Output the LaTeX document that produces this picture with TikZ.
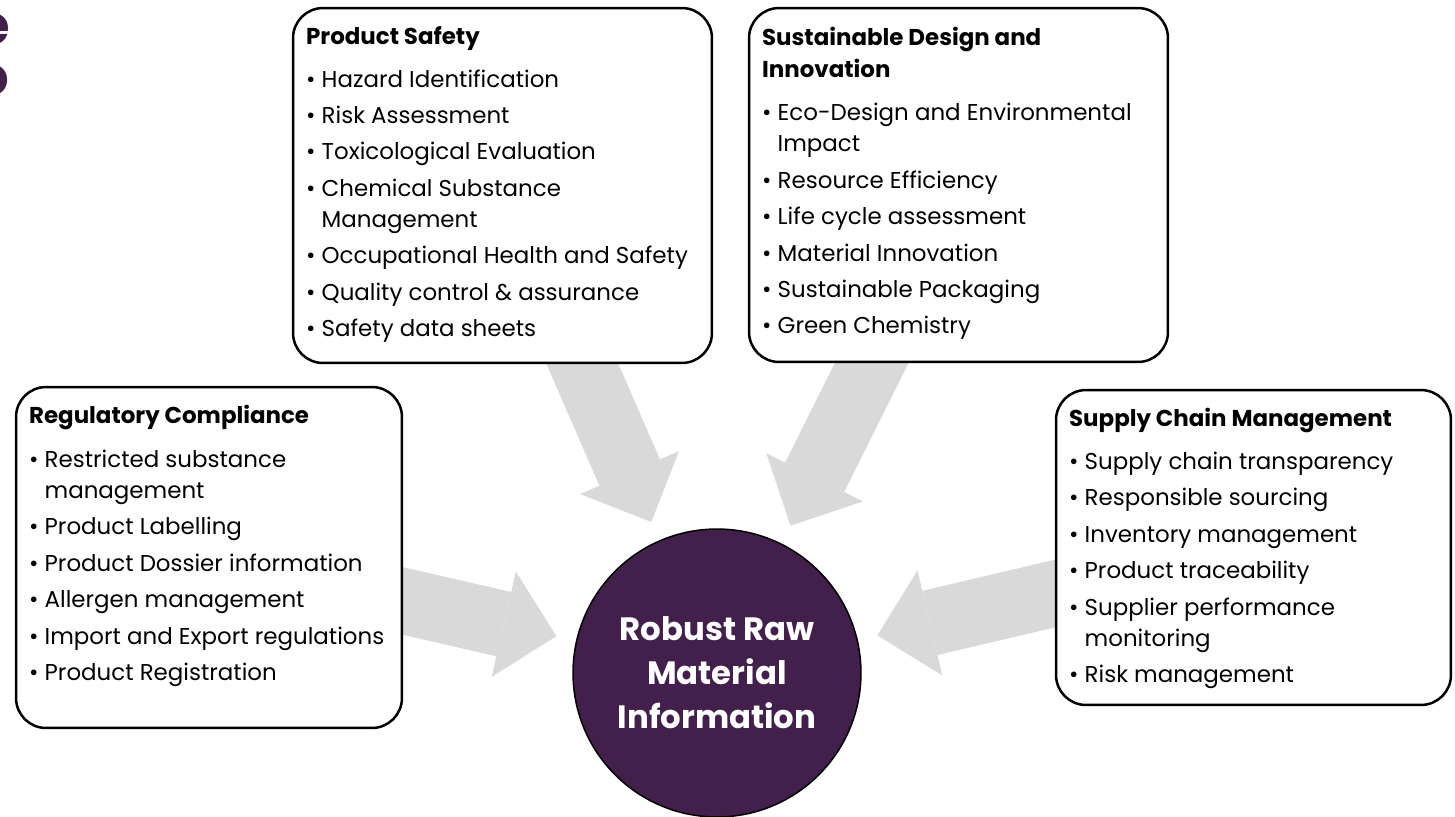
\documentclass[tikz,border=0pt]{standalone}
\usepackage{fontspec}
\setmainfont{Poppins}
\usepackage{tikz}
\usetikzlibrary{arrows.meta,calc,backgrounds}

\definecolor{hubpurple}{RGB}{66,32,75}
\definecolor{flowgray}{RGB}{217,217,217}

\newcommand{\dotitem}{\textbullet\ }
\newcommand{\dotpad}{\phantom{\textbullet\ }}

\tikzset{
  card/.style={draw=black, line width=0.05cm, rounded corners=0.6cm, fill=white},
  cardtext/.style={anchor=north west, inner sep=0pt, align=left,
    font=\fontsize{13.05}{17.6}\selectfont},
  flow/.style={draw=flowgray, line width=1.32cm,
    -{Triangle[length=1.08cm,width=2.16cm,line width=0pt]}, shorten >=0.4cm},
}

\begin{document}
\begin{tikzpicture}[x=0.02cm, y=-0.02cm]
  \useasboundingbox (0,0) rectangle (1455,816);

  % Define the hub in the middle
  \node[circle, draw=black, line width=0.03cm, fill=hubpurple, minimum size=5.76cm,
    text=white, align=center, font=\fontsize{18.4}{25}\selectfont\bfseries] (hub) at (717,673)
    {Robust Raw\\Material\\Information};

  % Define the four boxes
  \node[card, minimum width=8.38cm, minimum height=7.1cm] (safety) at (502.5,185.5) {};
  \node[card, minimum width=8.38cm, minimum height=7.08cm] (design) at (958.5,185) {};
  \node[card, minimum width=7.72cm, minimum height=6.82cm] (reg) at (209,557.5) {};
  \node[card, minimum width=7.9cm, minimum height=6.3cm] (supply) at (1253.5,547.5) {};

  % Fill in the lists
  \node[cardtext] (safetytext) at ($(safety.north west)+(14,19)$) {%
    \textbf{Product Safety}\\[0.24cm]
    \dotitem Hazard Identification\\[0.11cm]
    \dotitem Risk Assessment\\[0.11cm]
    \dotitem Toxicological Evaluation\\[0.11cm]
    \dotitem Chemical Substance\\
    \dotpad Management\\[0.11cm]
    \dotitem Occupational Health and Safety\\[0.11cm]
    \dotitem Quality control \& assurance\\[0.11cm]
    \dotitem Safety data sheets};
  \node[cardtext] (designtext) at ($(design.north west)+(14,20)$) {%
    \textbf{Sustainable Design and}\\[0.03cm]
    \textbf{Innovation}\\[0.24cm]
    \dotitem Eco-Design and Environmental\\
    \dotpad Impact\\[0.11cm]
    \dotitem Resource Efficiency\\[0.11cm]
    \dotitem Life cycle assessment\\[0.11cm]
    \dotitem Material Innovation\\[0.11cm]
    \dotitem Sustainable Packaging\\[0.11cm]
    \dotitem Green Chemistry};
  \node[cardtext] (regtext) at ($(reg.north west)+(14,19)$) {%
    \textbf{Regulatory Compliance}\\[0.26cm]
    \dotitem Restricted substance\\
    \dotpad management\\[0.11cm]
    \dotitem Product Labelling\\[0.11cm]
    \dotitem Product Dossier information\\[0.11cm]
    \dotitem Allergen management\\[0.11cm]
    \dotitem Import and Export regulations\\[0.11cm]
    \dotitem Product Registration};
  \node[cardtext] (supplytext) at ($(supply.north west)+(14,19)$) {%
    \textbf{Supply Chain Management}\\[0.24cm]
    \dotitem Supply chain transparency\\[0.11cm]
    \dotitem Responsible sourcing\\[0.11cm]
    \dotitem Inventory management\\[0.11cm]
    \dotitem Product traceability\\[0.11cm]
    \dotitem Supplier performance\\
    \dotpad monitoring\\[0.11cm]
    \dotitem Risk management};

  % Cut-off title letters at the edge
  \node[anchor=mid east, inner sep=0pt, text=hubpurple, font=\fontsize{31}{31}\selectfont\bfseries] (cute) at (10,40) {e};
  \node[anchor=mid east, inner sep=0pt, text=hubpurple, font=\fontsize{31}{31}\selectfont\bfseries] (cuto) at (10,91) {o};

  % Draw the arrows behind the boxes
  \begin{scope}[on background layer]
    \draw[flow] ($(safety.south)+(60,-46)$) -- (hub);
    \draw[flow] ($(design.south)+(-66,-42)$) -- (hub);
    \draw[flow] ($(reg.east)+(-46,33)$) -- (hub);
    \draw[flow] ($(supply.west)+(47,35)$) -- (hub);
  \end{scope}
\end{tikzpicture}
\end{document}
